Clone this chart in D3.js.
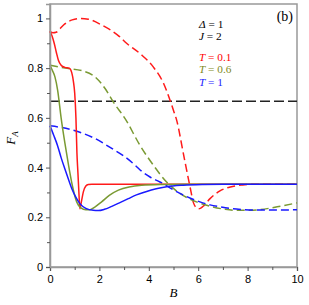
<!DOCTYPE html>
<html>
<head>
<meta charset="utf-8">
<script src="https://cdn.jsdelivr.net/npm/d3@7"></script>
<style>
  body { margin: 0; background: #fff; }
  .tick text { font-family: "Liberation Sans", Arial, sans-serif; font-size: 11px; fill: #000; }
  .ann { font-family: "Liberation Serif", "Times New Roman", serif; font-size: 11.3px; }
</style>
</head>
<body>
<div id="chart"></div>
<script>

// values: [B, F_A]
var redDashed = [[0,0.948],[0.12,0.942],[0.25,0.944],[0.4,0.958],[0.6,0.978],[0.9,0.994],[1.25,1.0],[1.55,0.997],[2.1,0.973],[2.8,0.928],[3.1,0.9],[3.65,0.858],[4.18,0.805],[4.6,0.738],[4.86,0.671],[5.0,0.63],[5.13,0.59],[5.4,0.456],[5.67,0.322],[5.81,0.258],[5.93,0.238],[6.02,0.234],[6.12,0.238],[6.22,0.246],[6.48,0.275],[6.88,0.306],[7.3,0.322],[7.8,0.33],[8.3,0.333],[10,0.333]];
var redSolid = [[0,0.948],[0.08,0.93],[0.17,0.9],[0.26,0.862],[0.34,0.832],[0.45,0.812],[0.6,0.803],[0.78,0.8],[0.88,0.782],[0.95,0.745],[1.0,0.7],[1.05,0.6],[1.09,0.46],[1.13,0.38],[1.17,0.3],[1.21,0.234],[1.27,0.262],[1.35,0.302],[1.45,0.326],[1.55,0.332],[1.7,0.333],[10,0.333]];
var oliveDashed = [[0,0.812],[0.61,0.8],[1.28,0.79],[1.82,0.765],[2.23,0.718],[2.56,0.664],[3.04,0.597],[3.64,0.49],[4.18,0.41],[4.72,0.342],[5.26,0.296],[5.93,0.262],[6.5,0.244],[7.1,0.232],[7.6,0.228],[8.1,0.228],[8.5,0.231],[9.2,0.242],[10,0.258]];
var oliveSolid = [[0,0.812],[0.1,0.79],[0.2,0.765],[0.31,0.711],[0.45,0.6],[0.6,0.5],[0.75,0.41],[0.9,0.33],[1.08,0.262],[1.25,0.238],[1.45,0.23],[1.62,0.23],[1.8,0.24],[2.09,0.262],[2.4,0.288],[2.77,0.309],[3.2,0.322],[3.71,0.329],[4.5,0.332],[5.5,0.333],[10,0.333]];
var blueDashed = [[0,0.568],[0.47,0.561],[1.15,0.544],[1.82,0.517],[2.5,0.477],[3.04,0.443],[3.44,0.41],[3.75,0.382],[4.05,0.362],[4.45,0.342],[5.26,0.296],[6.07,0.262],[6.48,0.25],[6.88,0.242],[7.4,0.234],[7.83,0.231],[8.5,0.229],[10,0.23]];
var blueSolid = [[0,0.568],[0.15,0.53],[0.3,0.49],[0.45,0.44],[0.6,0.395],[0.75,0.352],[0.88,0.316],[1.05,0.28],[1.21,0.255],[1.45,0.236],[1.75,0.228],[1.95,0.227],[2.2,0.232],[2.5,0.244],[2.85,0.26],[3.17,0.275],[3.5,0.29],[3.85,0.302],[4.3,0.315],[4.72,0.323],[5.4,0.329],[6.2,0.332],[7,0.333],[10,0.333]];
var limitLine = [[0,0.667],[10,0.667]];

var xTicks = [0, 2, 4, 6, 8, 10];
var xMinor = [1, 3, 5, 7, 9];
var yTicks = [0, 0.2, 0.4, 0.6, 0.8, 1];
var yMinor = [0.1, 0.3, 0.5, 0.7, 0.9];

var legend = [
    {label: "0.1", color: "#ff0000"},
    {label: "0.6", color: "#7f8a1a"},
    {label: "1", color: "#1a1aff"}
];

var width = 309, height = 305;
var margin = {top: 4, right: 12, bottom: 38, left: 50};

var svg = d3.select("#chart").append("svg")
    .attr("width", width)
    .attr("height", height);

var x = d3.scaleLinear().domain([0, 10]).range([margin.left, width - margin.right]);
var y = d3.scaleLinear().domain([0, 1.058]).range([height - margin.bottom, margin.top]);

var line = d3.line()
    .x(function (d) { return x(d[0]); })
    .y(function (d) { return y(d[1]); })
    .curve(d3.curveMonotoneX);

// frame
svg.append("rect")
    .attr("x", x(0))
    .attr("y", y(1.058))
    .attr("width", x(10) - x(0))
    .attr("height", y(0) - y(1.058))
    .attr("fill", "none")
    .attr("stroke", "#999")
    .attr("stroke-width", 1.5);

// curves
var series = [
    {data: limitLine, color: "#222", dash: "10,4"},
    {data: redDashed, color: "#ff1a1a", dash: "8,4"},
    {data: oliveDashed, color: "#7a9a33", dash: "8,4"},
    {data: blueDashed, color: "#1a1aff", dash: "8,4"},
    {data: redSolid, color: "#ff1a1a", dash: null},
    {data: oliveSolid, color: "#7a9a33", dash: null},
    {data: blueSolid, color: "#1a1aff", dash: null}
];

series.forEach(function (s) {
    svg.append("path")
        .datum(s.data)
        .attr("fill", "none")
        .attr("stroke", s.color)
        .attr("stroke-width", 1.5)
        .attr("stroke-dasharray", s.dash)
        .attr("d", line);
});

// axes
var xAxis = svg.append("g")
    .attr("transform", "translate(0," + y(0) + ")")
    .call(d3.axisBottom(x).tickValues(xTicks).tickSize(4).tickPadding(4).tickFormat(d3.format("d")));
var yAxis = svg.append("g")
    .attr("transform", "translate(" + x(0) + ",0)")
    .call(d3.axisLeft(y).tickValues(yTicks).tickSize(4).tickPadding(3).tickFormat(function (d) { return d3.format("")(d); }));

[xAxis, yAxis].forEach(function (a) {
    a.select(".domain").attr("stroke", "#999").attr("stroke-width", 1.5);
    a.selectAll(".tick line").attr("stroke", "#555");
});

svg.append("g")
    .attr("transform", "translate(0," + y(0) + ")")
    .call(d3.axisBottom(x).tickValues(xMinor).tickSize(3).tickFormat(""))
    .call(function (g) { g.select(".domain").remove(); g.selectAll("line").attr("stroke", "#555"); });
svg.append("g")
    .attr("transform", "translate(" + x(0) + ",0)")
    .call(d3.axisLeft(y).tickValues(yMinor).tickSize(3).tickFormat(""))
    .call(function (g) { g.select(".domain").remove(); g.selectAll("line").attr("stroke", "#555"); });

// axis titles
svg.append("text")
    .attr("class", "ann")
    .attr("x", x(5))
    .attr("y", 297)
    .attr("text-anchor", "middle")
    .style("font-style", "italic")
    .style("font-size", "13px")
    .text("B");

var yl = svg.append("text")
    .attr("class", "ann")
    .attr("transform", "translate(15,138) rotate(-90)")
    .attr("text-anchor", "middle")
    .style("font-size", "13px");
yl.append("tspan").style("font-style", "italic").text("F");
yl.append("tspan").style("font-style", "italic").style("font-size", "9px").attr("dy", 3).text("A");

// annotations
svg.append("text").attr("class", "ann")
    .attr("x", 293).attr("y", 21).attr("text-anchor", "end")
    .style("font-size", "14px").text("(b)");

var t1 = svg.append("text").attr("class", "ann").attr("x", 199).attr("y", 27.5);
t1.append("tspan").style("font-style", "italic").text("Δ");
t1.append("tspan").text(" = 1");
var t2 = svg.append("text").attr("class", "ann").attr("x", 199).attr("y", 40.3);
t2.append("tspan").style("font-style", "italic").text("J");
t2.append("tspan").text(" = 2");

legend.forEach(function (d, i) {
    var t = svg.append("text").attr("class", "ann")
        .attr("x", 199).attr("y", 60.5 + i * 12.6)
        .attr("fill", d.color);
    t.append("tspan").style("font-style", "italic").text("T");
    t.append("tspan").text(" = " + d.label);
});

</script>
</body>
</html>
